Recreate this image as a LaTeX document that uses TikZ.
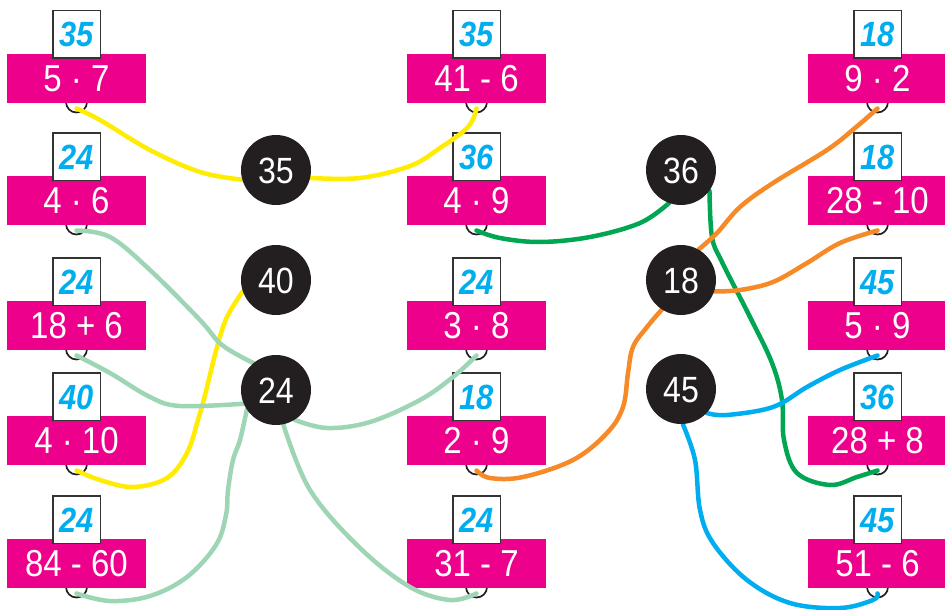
\documentclass[tikz,border=0pt]{standalone}
\usepackage{fontspec}
\setmainfont{Liberation Sans}[FakeStretch=0.88]
\definecolor{mag}{HTML}{EC008C}
\definecolor{ans}{HTML}{00AEEF}
\definecolor{ink}{HTML}{231F20}
\definecolor{frame}{HTML}{333333}
\definecolor{yel}{HTML}{FFEC00}
\definecolor{mint}{HTML}{9ED5B5}
\definecolor{grn}{HTML}{00A651}
\definecolor{org}{HTML}{F58A27}
\definecolor{blu}{HTML}{00AEEF}
\pgfdeclarelayer{back}
\pgfdeclarelayer{front}
\pgfsetlayers{back,main,front}
\newcommand\cell[5]{%
  \node[ring] (r#1) at (#2,#3+23.5) {};
  \node[mbox] (b#1) at (#2,#3) {#5};
  \node[abox] (a#1) at (#2,#3-44) {#4};
  \coordinate (p#1) at (#2,#3+30);
}
\begin{document}
\begin{tikzpicture}[x=1pt,y=-1pt,
  mbox/.style={rectangle, fill=mag, minimum width=139pt, minimum height=49pt, inner sep=0pt,
    text=white, font=\fontsize{37.5}{37.5}\selectfont, text height=26.8pt, text depth=0pt},
  abox/.style={rectangle, fill=white, draw=frame, line width=1.5pt, minimum width=47.5pt,
    minimum height=47.5pt, inner sep=0pt, text=ans,
    font=\fontsize{35}{35}\selectfont\bfseries\itshape, text height=25pt, text depth=0pt},
  ring/.style={circle, draw=ink, line width=1.7pt, minimum size=21pt, inner sep=0pt},
  numdot/.style={circle, fill=ink, minimum size=70pt, inner sep=0pt, text=white,
    font=\fontsize{36.5}{36.5}\selectfont, text height=26pt, text depth=0pt},
  link/.style={line width=4.5pt, line cap=round, line join=round}]
\useasboundingbox (0,0) rectangle (945,610);
\begin{pgfonlayer}{back}
% column 1
\cell{11}{76.5}{78.5}{35}{5 · 7}
\cell{12}{76.5}{200.5}{24}{4 · 6}
\cell{13}{76.5}{325.5}{24}{18 + 6}
\cell{14}{76.5}{440.5}{40}{4 · 10}
\cell{15}{76.5}{563.5}{24}{84 - 60}
% column 2
\cell{21}{476.5}{78.5}{35}{41 - 6}
\cell{22}{476.5}{200.5}{36}{4 · 9}
\cell{23}{476.5}{325.5}{24}{3 · 8}
\cell{24}{476.5}{440.5}{18}{2 · 9}
\cell{25}{476.5}{563.5}{24}{31 - 7}
% column 3
\cell{31}{877.5}{78.5}{18}{9 · 2}
\cell{32}{877.5}{200.5}{18}{28 - 10}
\cell{33}{877.5}{325.5}{45}{5 · 9}
\cell{34}{877.5}{440.5}{36}{28 + 8}
\cell{35}{877.5}{563.5}{45}{51 - 6}
\end{pgfonlayer}
% result circles
\begin{pgfonlayer}{front}
\node[numdot] (c35) at (276,170) {35};
\node[numdot] (c40) at (276,280) {40};
\node[numdot] (c24) at (276,390) {24};
\node[numdot] (c36) at (681,170) {36};
\node[numdot] (c18) at (681,280) {18};
\node[numdot] (c45) at (681,389) {45};
\end{pgfonlayer}
% connectors
\draw[link, yel] plot[smooth, tension=0.6] coordinates {(p11) (100,120) (150,150) (200,172) (c35.196)};
\draw[link, yel] plot[smooth, tension=0.6] coordinates {(c35.347) (360,178) (410,166) (440,148) (468,127) (p21)};
\draw[link, yel] plot[smooth, tension=0.6] coordinates {(c40.199) (227,317) (217,347) (205,395) (198,420) (187,453) (167,478) (133,487) (100,480) (p14)};
\draw[link, mint] plot[smooth, tension=0.6] coordinates {(p12) (110,237) (150,270) (200,320) (222,345) (c24.130)};
\draw[link, mint] plot[smooth, tension=0.6] coordinates {(p13) (110,373) (150,397) (180,406) (c24.203)};
\draw[link, mint] plot[smooth, tension=0.6] coordinates {(c24.214) (240,440) (233,460) (228,490) (226,515) (216,545) (187,577) (150,596) (110,601) (p15)};
\draw[link, mint] plot[smooth, tension=0.6] coordinates {(c24.302) (327,428) (370,422) (420,400) (453,377) (p23)};
\draw[link, mint] plot[smooth, tension=0.6] coordinates {(c24.282) (310,490) (360,548) (410,587) (450,600) (p25)};
\draw[link, grn] plot[smooth, tension=0.6] coordinates {(p22) (500,238) (540,242) (590,237) (640,223) (c36.250)};
\draw[link, grn] plot[smooth, tension=0.6] coordinates {(c36.324) (712,237) (722,262) (750,317) (772,363) (782,400) (784,440) (797,473) (830,485) (857,477) (p34)};
\draw[link, org] plot[smooth, tension=0.6] coordinates {(p31) (855,128) (827,150) (773,183) (740,207) (717,233) (c18.60)};
\draw[link, org] plot[smooth, tension=0.6] coordinates {(c18.341) (740,290) (773,282) (807,263) (840,243) (p32)};
\draw[link, org] plot[smooth, tension=0.6] coordinates {(c18.237) (647,327) (633,347) (628,373) (623,407) (607,433) (573,460) (523,477) (490,478) (p24)};
\draw[link, blu] plot[smooth, tension=0.6] coordinates {(c45.317) (727,415) (773,407) (807,387) (840,370) (p33)};
\draw[link, blu] plot[smooth, tension=0.6] coordinates {(c45.273) (695,460) (700,510) (713,543) (747,580) (790,603) (840,608) (873,600) (p35)};
\end{tikzpicture}
\end{document}
